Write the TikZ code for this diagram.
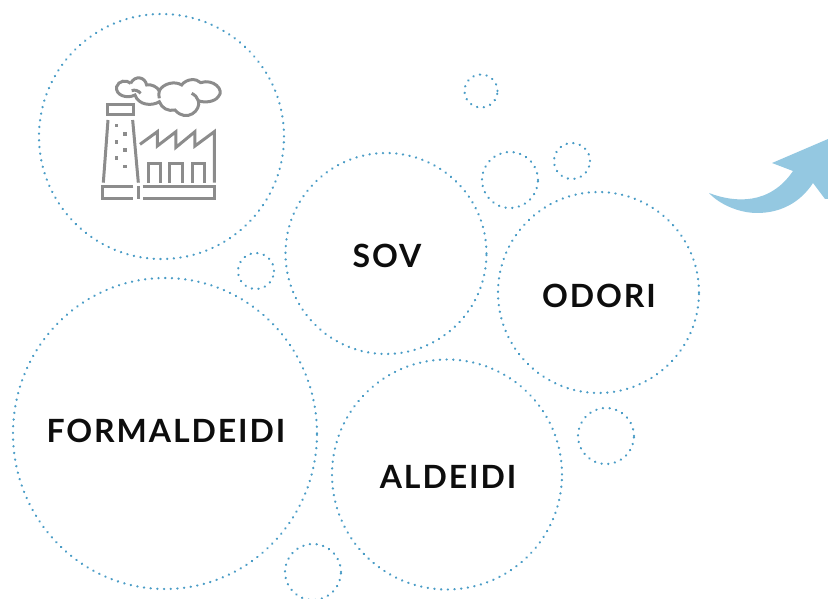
\documentclass[tikz,border=0pt]{standalone}
\usepackage{fontspec}
\setmainfont{Lato}[]
\newfontfamily\labelfont[LetterSpace=6,Ligatures=NoCommon]{Lato Bold}
\usetikzlibrary{shapes.geometric}
\definecolor{bubbleblue}{HTML}{4A9CC6}
\definecolor{arrowblue}{HTML}{94C8E1}
\definecolor{icongray}{HTML}{8C8C8C}
\tikzset{
  bubble/.style={circle, draw=bubbleblue, line width=2.4pt, line cap=round, dash pattern=on 0.2pt off 6.5pt, inner sep=0pt},
  bubblelabel/.style={inner sep=0pt, font=\labelfont\fontsize{32}{32}\selectfont, text=black!95},
  icon/.style={draw=icongray, line width=3pt, line join=miter}
}
\begin{document}
\begin{tikzpicture}[x=1pt, y=-1pt]
  \useasboundingbox (0,0) rectangle (828,599);

  % Bubbles with text
  \node[bubble, minimum size=245pt] (factory) at (161.5,136.5) {};
  \node[bubble, minimum size=201pt] (sov) at (386,253.5) {};
  \node[bubble, minimum size=201pt] (odori) at (598.5,292.5) {};
  \node[bubble, ellipse, minimum width=304pt, minimum height=311pt] (formaldeidi) at (165,433.5) {};
  \node[bubble, minimum size=230pt] (aldeidi) at (447,474.5) {};

  \node[bubblelabel] (sovlabel) at (387,256) {SOV};
  \node[bubblelabel] (odorilabel) at (599,296) {ODORI};
  \node[bubblelabel] (formaldeidilabel) at (166,430.5) {FORMALDEIDI};
  \node[bubblelabel] (aldeidilabel) at (448,476.5) {ALDEIDI};

  % Small bubbles
  \node[bubble, minimum size=33pt] (small1) at (481,91) {};
  \node[bubble, minimum size=56pt] (small2) at (510,180) {};
  \node[bubble, minimum size=36pt] (small3) at (572,161) {};
  \node[bubble, minimum size=36pt] (small4) at (256,271) {};
  \node[bubble, minimum size=56pt] (small5) at (606,436) {};
  \node[bubble, minimum size=56pt] (small6) at (313,572) {};

  % Arrow
  \fill[arrowblue] (709,193) .. controls (735,203) and (770,205) .. (793,171)
    -- (772,163) -- (828,139) -- (828,199) -- (825,199) -- (813,183)
    .. controls (800,203) and (780,213) .. (757,213)
    .. controls (740,213) and (720,205) .. (709,193) -- cycle;

  % Factory icon
  \begin{scope}[shift={(80,60)}, x=0.3333pt, y=-0.3333pt]
    \draw[icon] (84,134) rectangle (160,165);
    \draw[icon] (84,180) -- (70,368);
    \draw[icon] (158,180) -- (175,368);
    \draw[icon] (160,380) -- (68,380) -- (68,415) -- (160,415);
    \draw[icon] (175,378) -- (175,418);
    \draw[icon] (188,380) -- (405,380) -- (405,415) -- (188,415);
    \draw[icon] (180,253) -- (232,215) -- (232,258) -- (288,215) -- (288,262)
      -- (345,215) -- (345,258) -- (403,215) -- (403,368);
    \foreach \wx in {205,270,337}
      \draw[icon] (\wx,368) -- (\wx,310) -- ++(38,0) -- ++(0,58);
    \foreach \dx/\dy in {110/197,135/222,110/246,135/270,110/294,135/319}
      \fill[icongray] (\dx-5,\dy-5) rectangle ++(10,10);
    \draw[icon] (152,70) .. controls (165,45) and (195,50) .. (200,75)
      .. controls (215,72) and (230,80) .. (238,92)
      .. controls (250,70) and (285,62) .. (305,75)
      .. controls (320,55) and (350,55) .. (362,68)
      .. controls (400,55) and (435,90) .. (415,110)
      .. controls (405,125) and (375,130) .. (355,122)
      .. controls (365,150) and (320,190) .. (285,150)
      .. controls (265,155) and (245,145) .. (238,125)
      .. controls (215,140) and (175,135) .. (165,105)
      .. controls (140,118) and (105,105) .. (110,80)
      .. controls (115,62) and (140,58) .. (152,70);
    \draw[icon] (155,92) .. controls (165,88) and (175,92) .. (182,100);
    \draw[icon] (238,92) .. controls (236,100) and (236,108) .. (238,115);
    \draw[icon] (355,122) .. controls (352,112) and (345,105) .. (335,100);
  \end{scope}
\end{tikzpicture}
\end{document}
